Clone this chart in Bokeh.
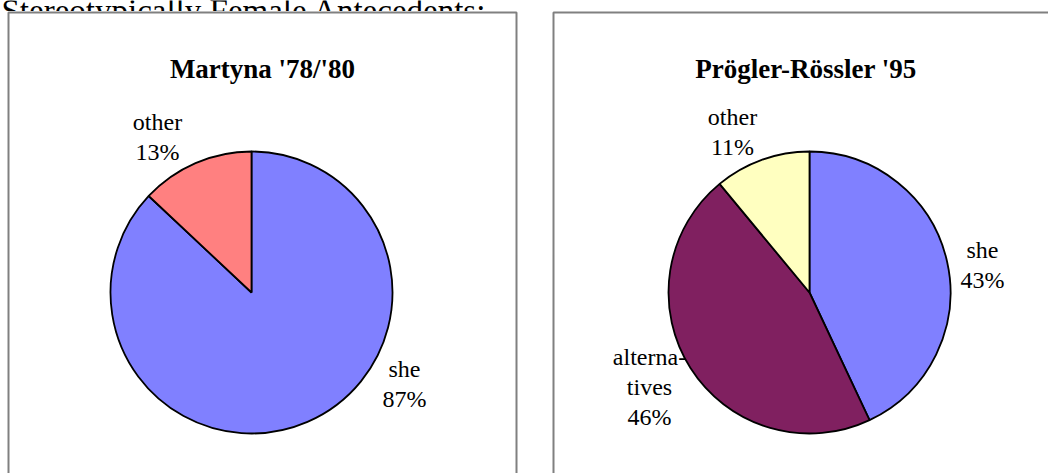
import numpy as np
from bokeh.plotting import figure
from bokeh.models import Range1d
from bokeh.core.properties import value
from bokeh.embed import file_html
from bokeh.resources import INLINE

# ---------------- data ----------------
header = "Stereotypically Female Antecedents:"

left_title = "Martyna '78/'80"
left_labels = ["she", "other"]
left_values = [87, 13]
left_colors = ["#8080FF", "#FF8080"]

right_title = "Prögler-Rössler '95"
right_labels = ["she", "alternatives", "other"]
right_label_lines = [["she"], ["alterna-", "tives"], ["other"]]
right_values = [43, 46, 11]
right_colors = ["#8080FF", "#802060", "#FFFFC0"]

# ---------------- layout (pixel coords, y from top) ----------------
W, H = 1048, 473
def Y(py):
    return H - py

SERIF = value("Liberation Serif")

p = figure(width=W, height=H, output_backend="svg", toolbar_location=None,
           x_range=Range1d(0, W), y_range=Range1d(0, H), min_border=0)
p.axis.visible = False
p.grid.visible = False
p.outline_line_color = None
p.background_fill_color = "white"
p.border_fill_color = "white"

# header text (partly covered by chart object, as in the original)
p.text(x=[1], y=[Y(10)], text=[header], text_font=SERIF, text_font_size="33px",
       text_align="left", text_baseline="alphabetic", text_color="black")

# chart object background
p.quad(left=[0], right=[W], top=[Y(10.5)], bottom=[Y(H + 10)],
       fill_color="white", line_color=None)

# panels
p.quad(left=[8, 553], right=[516, 1060], top=[Y(12), Y(12)], bottom=[Y(490), Y(490)],
       fill_color="white", line_color="#808080", line_width=2)

def draw_pie(cx, cy, r, values, colors):
    v = np.array(values, dtype=float)
    frac = v / v.sum()
    cum = np.concatenate([[0], np.cumsum(frac)])
    start = 90 - cum[:-1] * 360
    end = 90 - cum[1:] * 360
    p.wedge(x=[cx] * len(v), y=[Y(cy)] * len(v), radius=r,
            start_angle=list(start), end_angle=list(end),
            start_angle_units="deg", end_angle_units="deg", direction="clock",
            fill_color=colors, line_color="black", line_width=1.8)

def draw_label(x, y0, lines, step=30):
    for i, t in enumerate(lines):
        p.text(x=[x], y=[Y(y0 + i * step)], text=[t], text_font=SERIF,
               text_font_size="24px", text_align="center",
               text_baseline="alphabetic", text_color="black")

# titles
p.text(x=[262], y=[Y(68)], text=[left_title], text_font=SERIF, text_font_size="27px",
       text_font_style="bold", text_align="center", text_baseline="alphabetic")
p.text(x=[805.5], y=[Y(68)], text=[right_title], text_font=SERIF, text_font_size="27px",
       text_font_style="bold", text_align="center", text_baseline="alphabetic")

# labels (drawn before the pies so the pie edge overlaps the hyphen as in original)
left_label_pos = [(404, 368), (157, 121)]
for (lx, ly), name, v in zip(left_label_pos, left_labels, left_values):
    draw_label(lx, ly, [name, f"{v}%"])

right_label_pos = [(982, 249), (649, 356), (732, 116)]
for (lx, ly), lines, v in zip(right_label_pos, right_label_lines, right_values):
    draw_label(lx, ly, lines + [f"{v}%"])

# pies
draw_pie(251, 292, 141, left_values, left_colors)
draw_pie(809, 292, 141, right_values, right_colors)

open("out.html", "w").write(file_html(p, INLINE))
